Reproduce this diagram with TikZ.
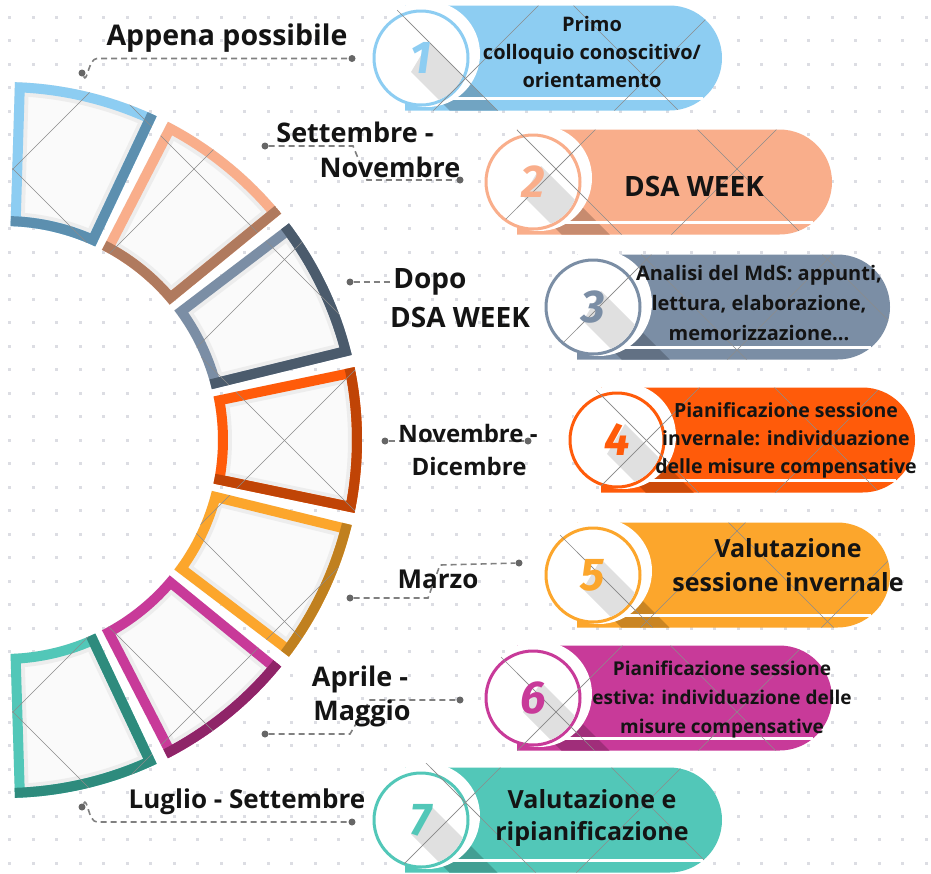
\documentclass[tikz,border=0pt]{standalone}
\usepackage{fontspec}
\setmainfont{Open Sans}
\newfontfamily\numfont{Fira Sans}
\usetikzlibrary{calc}
\definecolor{cA}{HTML}{8DCDF2}\definecolor{dA}{HTML}{5C8FAF}
\definecolor{cB}{HTML}{F9AE8B}\definecolor{dB}{HTML}{B07A5E}
\definecolor{cC}{HTML}{7B8EA5}\definecolor{dC}{HTML}{4B5B6C}
\definecolor{cD}{HTML}{FF5B0A}\definecolor{dD}{HTML}{C04406}
\definecolor{cE}{HTML}{FCA62C}\definecolor{dE}{HTML}{C0801F}
\definecolor{cF}{HTML}{C83A99}\definecolor{dF}{HTML}{8F2468}
\definecolor{cG}{HTML}{52C7B8}\definecolor{dG}{HTML}{2E8B7D}
\definecolor{dotc}{HTML}{DCDDE3}
\definecolor{leadc}{HTML}{808080}
\definecolor{txt}{HTML}{141414}

\newcommand\lattice{%
 \foreach \k in {-5,...,6}{%
  \draw[latt] ({-156+181*\k-100},-100) -- ({-156+181*\k+1100},1100);
  \draw[latt] ({725+181*\k+100},-100) -- ({725+181*\k-1100},1100);}}

\newcommand\segm[4]{%
 \pgfmathsetmacro\aA{#1-11.75}\pgfmathsetmacro\aB{#1+11.75}%
 \def\sect{($(C)+(\aA:358)$) arc[start angle=\aA,end angle=\aB,radius=358] -- ($(C)+(\aB:214)$) arc[start angle=\aB,end angle=\aA,radius=214] -- cycle}%
 \begin{scope}
  \clip \sect;
  \fill[black!2] \sect;
  \draw[black!7, line width=28] \sect;
  \draw[#2, line width=20] \sect;
  \ifcase#4\or
   \draw[#3, line width=20] ($(C)+(\aB:358)$) -- ($(C)+(\aB:214)$) arc[start angle=\aB,end angle=\aA,radius=214];
  \or
   \draw[#3, line width=20] ($(C)+(\aA:358)$) arc[start angle=\aA,end angle=\aB,radius=358] -- ($(C)+(\aB:214)$);
  \or
   \draw[#3, line width=20] ($(C)+(\aA:358)$) arc[start angle=\aA,end angle=\aB,radius=358];
  \or
   \draw[#3, line width=20] ($(C)+(\aA:214)$) -- ($(C)+(\aA:358)$) arc[start angle=\aA,end angle=\aB,radius=358];
  \fi
  \lattice
 \end{scope}}

\newcommand\pill[7]{%
 \def\pp{(#1-16,#2-52.5) -- (#3-52.5,#2-52.5) arc[start angle=-90,end angle=90,radius=52.5] -- (#1-16,#2+52.5) -- cycle}%
 \def\band{(#1+8,#2-16) -- (#1-10,#2+14) -- (#1+190,#2+214) -- (#1+208,#2+184) -- cycle}%
 \fill[#4] \pp;
 \begin{scope}\clip \pp; \fill[#4!80!black] \band; \end{scope}
 \draw[white, line width=3] (#1,#2+40) -- (#3-19,#2+40);
 \fill[white] (#1+6,#2-4) circle[radius=53];
 \node[circle, draw=#4, line width=3, fill=white, minimum size=94, inner sep=0] (#7) at (#1,#2) {};
 \begin{scope}\clip (#1,#2) circle[radius=45.5]; \fill[black!12] \band; \end{scope}
 \begin{scope}\clip \pp; \lattice \end{scope}
 \begin{scope}\clip (#1+6,#2-4) circle[radius=53]; \lattice \end{scope}
 \node[numtxt, text=#4] at (#1,#2) {#6};
}

\begin{document}
\begin{tikzpicture}[x=1pt,y=-1pt,
  latt/.style={draw=black!45, line width=0.6},
  lead/.style={draw=leadc, line width=1.6, dash pattern=on 6pt off 4pt},
  ldot/.style={circle, fill=black!60, inner sep=0, minimum size=7},
  datelbl/.style={font=\bfseries\fontsize{27}{30}\selectfont, inner sep=0, anchor=base, text=txt},
  smalllbl/.style={font=\bfseries\fontsize{24}{28}\selectfont, inner sep=0, anchor=base, text=txt},
  pilltxt/.style={align=center, inner sep=0, text=txt},
  numtxt/.style={font=\numfont\bfseries\itshape\fontsize{46}{46}\selectfont, inner sep=0}]
\fill[white] (0,0) rectangle (931,873);
\useasboundingbox (0,0) rectangle (931,873);
% dotted background
\foreach \i in {0,...,39}{\foreach \j in {0,...,36}{%
  \fill[dotc] ({8+23.5*\i},{15.5+23.5*\j}) rectangle ++(3,3);}}
\coordinate (C) at (4,440);
% arc segments
\segm{-76.5}{cA}{dA}{1}
\segm{-51}{cB}{dB}{1}
\segm{-25.5}{cC}{dC}{2}
\segm{0}{cD}{dD}{2}
\segm{25.5}{cE}{dE}{3}
\segm{51}{cF}{dF}{3}
\segm{76.5}{cG}{dG}{4}
% leader lines
\node[ldot] (l1a) at (82,73) {};
\node[ldot] (l1b) at (352,58.5) {};
\draw[lead] (l1a) to[out=-65,in=180] (97,58.5) -- (l1b);
\node[ldot] (l2a) at (265,146) {};
\node[ldot] (l2b) at (460,180) {};
\draw[lead] (l2a) -- (353,146) -- (367,180) -- (l2b);
\node[ldot] (l3a) at (350,282) {};
\coordinate (l3b) at (392,282);
\draw[lead] (l3a) -- (l3b);
\node[ldot] (l4a) at (385,441) {};
\node[ldot] (l4b) at (528,441) {};
\draw[lead] (l4a) -- (l4b);
\node[ldot] (l5a) at (350,598) {};
\node[ldot] (l5b) at (519,563) {};
\draw[lead] (l5a) -- (428,598) -- (440,565) -- (l5b);
\node[ldot] (l6a) at (265,734) {};
\node[ldot] (l6b) at (460,700) {};
\draw[lead] (l6a) -- (350,734) -- (370,700) -- (l6b);
\node[ldot] (l7a) at (82,807) {};
\node[ldot] (l7b) at (352,822) {};
\draw[lead] (l7a) to[out=65,in=180] (97,822) -- (l7b);
% pills
\pill{421}{58}{722}{cA}{}{1}{n1}
\pill{533}{182}{832}{cB}{}{2}{n2}
\pill{593}{307}{890}{cC}{}{3}{n3}
\pill{617}{440}{915}{cD}{}{4}{n4}
\pill{593}{575}{890}{cE}{}{5}{n5}
\pill{533}{698}{832}{cF}{}{6}{n6}
\pill{421}{820}{722}{cG}{}{7}{n7}
% pill texts
\node[pilltxt, font=\bfseries\fontsize{20}{28}\selectfont] (p1) at (592,52) {Primo\\colloquio conoscitivo/\\orientamento};
\node[pilltxt, font=\bfseries\fontsize{28}{30}\selectfont, anchor=base] (p2) at (694,196) {DSA WEEK};
\node[pilltxt, font=\bfseries\fontsize{20}{30}\selectfont] (p3) at (759,303) {Analisi del MdS: appunti,\\lettura, elaborazione,\\memorizzazione...};
\node[pilltxt, font=\bfseries\fontsize{19.5}{28}\selectfont] (p4) at (786,440) {Pianificazione sessione\\invernale: individuazione\\delle misure compensative};
\node[pilltxt, font=\bfseries\fontsize{25}{34}\selectfont] (p5) at (788,565) {Valutazione\\sessione invernale};
\node[pilltxt, font=\bfseries\fontsize{19}{29}\selectfont] (p6) at (722,700) {Pianificazione sessione\\estiva: individuazione delle\\misure compensative};
\node[pilltxt, font=\bfseries\fontsize{25}{32}\selectfont] (p7) at (592,818) {Valutazione e\\ripianificazione};
% date labels
\node[datelbl, font=\bfseries\fontsize{28.5}{30}\selectfont] (d1) at (227,45) {Appena possibile};
\node[datelbl] (d2a) at (355,142) {Settembre -};
\node[datelbl] (d2b) at (390,177) {Novembre};
\node[datelbl, font=\bfseries\fontsize{28}{30}\selectfont] (d3a) at (430,288) {Dopo};
\node[datelbl, font=\bfseries\fontsize{28}{30}\selectfont] (d3b) at (460,327) {DSA WEEK};
\node[smalllbl] (d4a) at (468,442) {Novembre -};
\node[smalllbl] (d4b) at (469,475) {Dicembre};
\node[datelbl, font=\bfseries\fontsize{26}{30}\selectfont] (d5) at (438,588) {Marzo};
\node[datelbl] (d6a) at (360,686) {Aprile -};
\node[datelbl] (d6b) at (362,720) {Maggio};
\node[datelbl, font=\bfseries\fontsize{26}{30}\selectfont] (d7) at (247,808) {Luglio - Settembre};
\end{tikzpicture}
\end{document}
